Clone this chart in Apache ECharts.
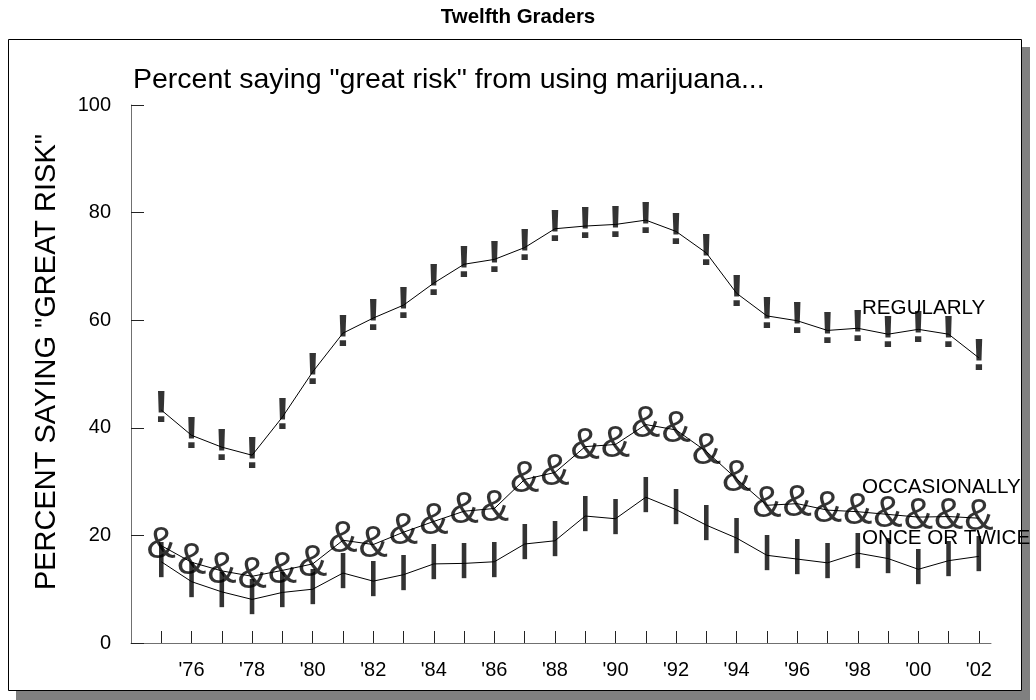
<!DOCTYPE html>
<html><head><meta charset="utf-8">
<script src="https://cdn.jsdelivr.net/npm/echarts@6/dist/echarts.min.js"></script>
<style>html,body{margin:0;padding:0;background:#fff}#c{width:1036px;height:700px}</style>
</head><body><div id="c"></div>
<script>
const years = [1975,1976,1977,1978,1979,1980,1981,1982,1983,1984,1985,1986,1987,1988,1989,1990,1991,1992,1993,1994,1995,1996,1997,1998,1999,2000,2001,2002];
const regularly = [43.3,38.6,36.4,34.9,42.0,50.4,57.6,60.4,62.8,66.9,70.4,71.3,73.5,77.0,77.5,77.8,78.6,76.5,72.5,65.0,60.8,59.9,58.1,58.5,57.4,58.3,57.4,53.0];
const occasionally = [18.1,15.0,13.4,12.4,13.5,14.7,19.1,18.3,20.6,22.6,24.5,25.0,30.4,31.7,36.5,36.9,40.6,39.6,35.6,30.5,25.6,25.9,24.7,24.4,23.9,23.4,23.5,23.2];
const onceOrTwice = [15.1,11.4,9.5,8.1,9.4,10.0,13.0,11.5,12.7,14.7,14.8,15.1,18.4,19.0,23.6,23.1,27.1,24.8,21.9,19.5,16.3,15.6,14.9,16.7,15.7,13.7,15.3,16.1];
const xLabelYears = [1976,1978,1980,1982,1984,1986,1988,1990,1992,1994,1996,1998,2000,2002];
const seriesNames = ['REGULARLY','OCCASIONALLY','ONCE OR TWICE'];
const glyphs = ['!','&','|'];
const titleText = 'Twelfth Graders';
const subtitleText = 'Percent saying "great risk" from using marijuana...';
const yAxisName = 'PERCENT SAYING "GREAT RISK"';

const FONT = '"Liberation Sans", Arial, sans-serif';
const chart = echarts.init(document.getElementById('c'), null, {renderer: 'canvas'});

const allValues = [regularly, occasionally, onceOrTwice];
const glyphSize = [45, 44, 36];
const glyphWeight = ['bold', 'normal', 'bold'];
const glyphOffset = [[0, 0], [0, 0], [0, -3]];
const series = [];
allValues.forEach((vals, k) => {
  const data = years.map((y, i) => [y, vals[i]]);
  series.push({
    name: seriesNames[k], type: 'line', data: data, symbol: 'none', silent: true,
    lineStyle: {color: '#000', width: 1}, z: 2, animation: false
  });
  series.push({
    name: seriesNames[k] + ' marks', type: 'scatter', data: data, symbolSize: 1, silent: true,
    itemStyle: {color: 'rgba(0,0,0,0)'}, z: 3, animation: false,
    label: {show: true, position: 'inside', formatter: glyphs[k], fontSize: glyphSize[k],
      fontWeight: glyphWeight[k], fontFamily: FONT, color: '#000', offset: glyphOffset[k]}
  });
});

const labelY = [308, 487, 538];

chart.setOption({
  animation: false,
  backgroundColor: '#fff',
  grid: {left: 131, right: 45, top: 105, bottom: 57, outerBoundsMode: 'none'},
  xAxis: {
    type: 'value', min: 1974, max: 2002.4, interval: 1,
    axisLine: {lineStyle: {color: '#707070', width: 1}},
    axisTick: {show: true, inside: true, length: 12, customValues: years, lineStyle: {color: '#222'}},
    axisLabel: {customValues: xLabelYears, formatter: v => "'" + String(v).slice(2),
      fontSize: 20, color: '#000', fontFamily: FONT, margin: 17},
    splitLine: {show: false}
  },
  yAxis: {
    type: 'value', min: 0, max: 100, interval: 20,
    axisLine: {show: true, lineStyle: {color: '#707070', width: 1}},
    axisTick: {show: true, inside: true, length: 13, lineStyle: {color: '#222'}},
    axisLabel: {fontSize: 20, color: '#000', fontFamily: FONT, margin: 20},
    splitLine: {show: false}
  },
  graphic: [
    {type: 'rect', z: -10, silent: true, shape: {x: 16, y: 47, width: 1014, height: 653}, style: {fill: '#808080'}},
    {type: 'rect', z: -9, silent: true, shape: {x: 8.5, y: 39.5, width: 1013, height: 651}, style: {fill: '#fff', stroke: '#000', lineWidth: 1}},
    {type: 'text', x: 518, y: 17, silent: true, style: {text: titleText, fontSize: 20.5, fontWeight: 'bold', fontFamily: FONT, fill: '#000', align: 'center', verticalAlign: 'middle'}},
    {type: 'text', x: 133, y: 80, silent: true, style: {text: subtitleText, fontSize: 28.5, fontFamily: FONT, fill: '#000', align: 'left', verticalAlign: 'middle'}},
    {type: 'text', x: 47, y: 362, rotation: Math.PI / 2, silent: true, style: {text: yAxisName, fontSize: 29, fontFamily: FONT, fill: '#000', align: 'center', verticalAlign: 'middle'}},
    {type: 'text', x: 862, y: labelY[0], silent: true, style: {text: seriesNames[0], fontSize: 20.6, fontFamily: FONT, fill: '#000', align: 'left', verticalAlign: 'middle'}},
    {type: 'text', x: 862, y: labelY[1], silent: true, style: {text: seriesNames[1], fontSize: 20.6, fontFamily: FONT, fill: '#000', align: 'left', verticalAlign: 'middle'}},
    {type: 'text', x: 862, y: labelY[2], silent: true, style: {text: seriesNames[2], fontSize: 20.6, fontFamily: FONT, fill: '#000', align: 'left', verticalAlign: 'middle'}}
  ],
  series: series
});
</script>
</body></html>
